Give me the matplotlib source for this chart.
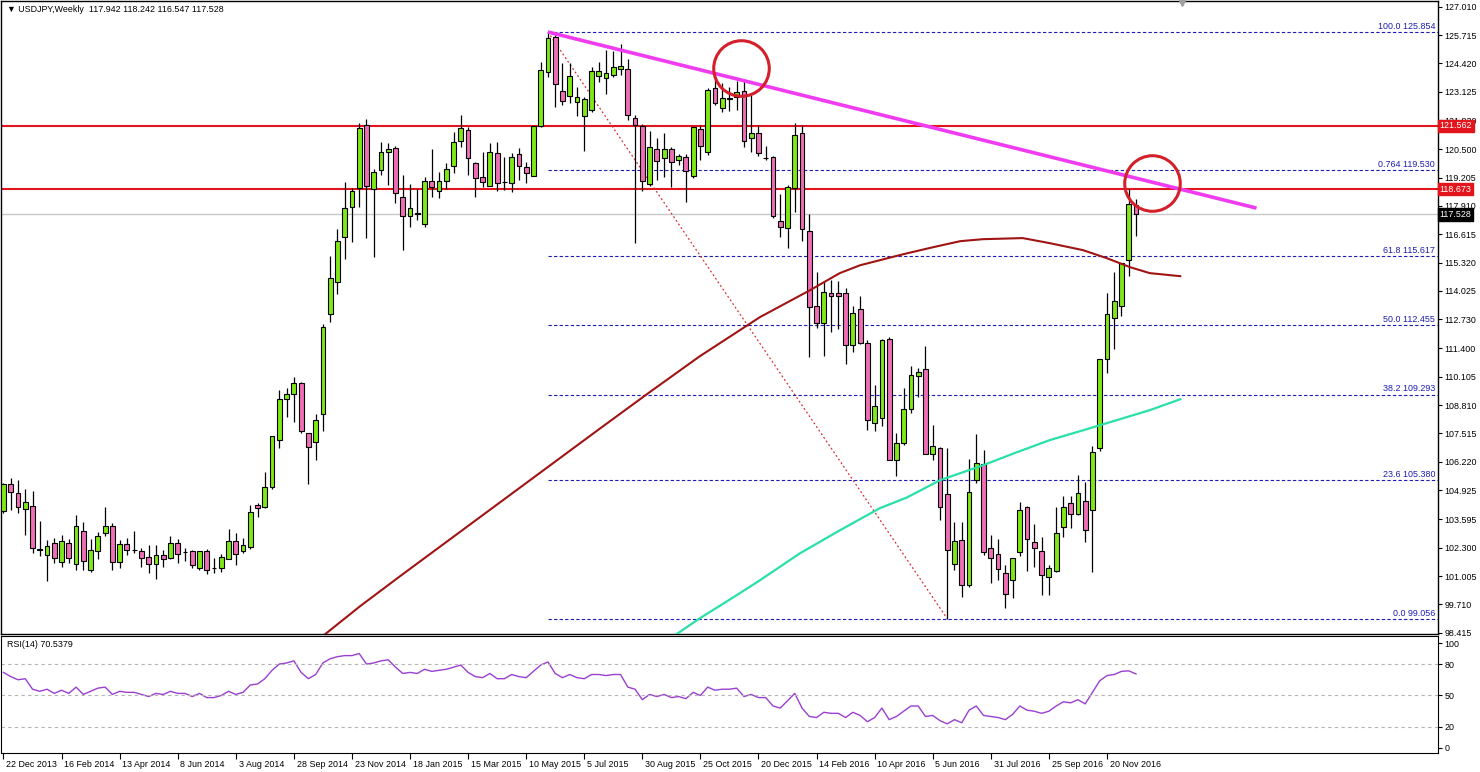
import matplotlib
matplotlib.use("Agg")
import matplotlib.pyplot as plt
from matplotlib.transforms import ScaledTranslation, blended_transform_factory
import numpy as np

plt.rcParams["font.family"] = ["Liberation Sans", "DejaVu Sans"]

# weekly USDJPY candles, bar 0 = week of 22 Dec 2013
opens = [103.96, 105.23, 104.80, 104.05, 104.20, 102.25, 101.98, 102.50, 101.64, 102.50,
         101.57, 103.07, 101.27, 102.16, 102.97, 103.29, 101.64, 102.46, 102.20, 102.17,
         101.88, 101.55, 101.98, 101.85, 102.50, 102.12, 102.14, 101.36, 102.14, 101.38,
         101.38, 101.80, 102.59, 102.17, 102.35, 104.24, 104.16, 105.07, 107.20, 109.10,
         109.30, 109.80, 107.54, 107.13, 108.40, 112.97, 114.45, 116.47, 117.87, 118.74,
         121.60, 118.66, 119.55, 120.38, 120.54, 118.33, 117.44, 117.52, 117.08, 119.03,
         118.60, 119.03, 119.73, 120.89, 121.40, 119.88, 119.21, 118.80, 120.31, 119.00,
         118.94, 120.27, 119.70, 119.27, 121.56, 124.04, 125.61, 123.17, 122.93, 122.67,
         122.00, 122.29, 123.84, 123.74, 123.89, 124.15, 124.15, 121.91, 121.56, 118.91,
         120.50, 120.11, 120.50, 120.00, 120.16, 119.29, 121.42, 120.35, 123.28, 122.37,
         122.82, 122.90, 123.16, 120.99, 121.25, 120.10, 120.16, 117.22, 116.88, 118.74,
         121.22, 116.77, 113.35, 112.58, 113.94, 113.91, 113.94, 111.55, 113.19, 111.63,
         108.01, 108.20, 111.85, 106.29, 107.10, 108.65, 110.14, 110.44, 106.60, 106.83,
         104.74, 101.54, 102.63, 100.58, 105.38, 106.14, 102.30, 102.03, 101.14, 100.80,
         102.10, 104.14, 102.58, 102.17, 100.98, 101.23, 103.26, 104.33, 103.85, 104.43,
         104.00, 106.86, 110.94, 112.81, 113.33, 115.46, 117.942]
highs = [105.25, 105.47, 105.40, 104.96, 104.90, 103.50, 102.63, 102.74, 102.86, 102.68,
         103.80, 103.46, 102.70, 103.02, 104.16, 103.43, 102.63, 102.74, 103.06, 102.30,
         102.40, 102.40, 102.20, 102.82, 102.68, 102.30, 102.20, 102.15, 102.25, 101.85,
         102.00, 103.14, 102.97, 102.74, 104.24, 104.34, 105.76, 107.40, 109.50, 109.57,
         110.10, 109.85, 107.54, 108.40, 112.50, 115.60, 116.84, 119.01, 118.75, 121.68,
         121.86, 119.60, 120.84, 120.77, 120.64, 119.32, 118.90, 118.66, 119.24, 120.50,
         119.47, 119.85, 121.30, 122.04, 121.50, 119.90, 120.35, 120.77, 120.84, 120.13,
         120.31, 120.54, 119.93, 121.56, 124.50, 125.87, 125.70, 124.45, 124.42, 123.35,
         122.90, 124.24, 124.47, 125.03, 125.00, 125.30, 124.60, 122.06, 121.65, 121.34,
         120.99, 121.25, 120.60, 120.30, 120.30, 121.50, 121.60, 123.28, 123.78, 123.51,
         123.33, 123.63, 123.66, 122.97, 121.60, 120.66, 120.20, 118.45, 118.85, 121.71,
         121.60, 117.53, 114.90, 114.49, 114.52, 114.50, 114.14, 113.33, 113.80, 111.80,
         109.75, 111.85, 111.90, 107.56, 109.60, 110.62, 110.50, 111.50, 107.92, 106.90,
         106.87, 103.45, 103.47, 106.36, 107.50, 106.75, 102.86, 102.71, 101.50, 101.84,
         104.40, 104.20, 103.40, 102.80, 101.50, 104.17, 104.68, 104.68, 105.60, 105.30,
         106.96, 110.93, 113.91, 114.87, 115.28, 118.66, 118.242]
lows = [103.87, 104.00, 103.90, 102.90, 102.04, 101.90, 100.77, 101.60, 101.40, 101.60,
        101.27, 101.28, 101.20, 101.80, 102.82, 101.30, 101.37, 101.98, 102.06, 101.40,
        101.12, 100.85, 101.40, 101.80, 101.60, 101.70, 101.36, 101.30, 101.08, 101.15,
        101.20, 101.78, 101.53, 102.06, 102.26, 103.70, 104.10, 105.00, 106.83, 108.28,
        108.05, 107.55, 105.23, 106.30, 107.64, 112.60, 113.87, 115.50, 116.26, 117.87,
        116.45, 115.57, 119.32, 118.85, 118.05, 115.89, 116.93, 117.26, 116.93, 118.33,
        118.25, 118.70, 119.40, 120.61, 119.32, 118.33, 118.77, 118.80, 118.60, 118.63,
        118.55, 119.09, 118.94, 119.27, 121.50, 123.78, 122.44, 122.52, 122.60, 122.00,
        120.43, 122.20, 123.58, 123.02, 123.80, 123.90, 121.83, 116.20, 118.60, 118.80,
        119.09, 119.24, 118.76, 119.80, 118.10, 119.20, 120.03, 120.25, 122.50, 122.21,
        122.26, 122.30, 120.58, 120.35, 120.20, 120.00, 117.34, 116.50, 116.00, 117.64,
        116.32, 110.99, 112.35, 111.06, 112.15, 112.27, 110.68, 111.24, 111.60, 107.69,
        107.63, 107.85, 106.30, 105.57, 107.00, 108.45, 109.16, 106.56, 106.29, 103.55,
        99.06, 101.30, 100.05, 100.50, 105.26, 101.95, 100.69, 100.84, 99.56, 99.98,
        101.90, 101.23, 101.42, 100.12, 100.12, 101.20, 102.80, 103.20, 103.80, 102.57,
        101.19, 106.70, 110.28, 111.37, 112.89, 114.70, 116.547]
closes = [105.20, 104.84, 104.15, 104.37, 102.30, 102.18, 102.37, 101.85, 102.59, 101.85,
          103.30, 101.68, 102.21, 102.85, 103.29, 101.64, 102.45, 102.20, 102.18, 101.83,
          101.55, 101.98, 101.78, 102.50, 102.00, 102.08, 101.52, 102.13, 101.29, 101.35,
          101.88, 102.62, 102.00, 102.40, 103.93, 104.09, 105.07, 107.39, 109.07, 109.30,
          109.80, 107.64, 106.90, 108.15, 112.36, 114.64, 116.30, 117.83, 118.60, 121.45,
          118.80, 119.47, 120.38, 120.50, 118.51, 117.44, 117.80, 117.60, 119.03, 118.78,
          119.03, 119.60, 120.81, 121.45, 120.11, 119.17, 118.99, 120.35, 118.94, 118.98,
          120.16, 119.74, 119.40, 121.56, 124.12, 125.56, 123.47, 122.70, 123.84, 122.90,
          122.78, 124.09, 124.09, 123.97, 124.24, 124.31, 122.06, 121.60, 119.06, 120.61,
          119.97, 120.50, 119.90, 120.20, 119.52, 121.50, 120.64, 123.20, 122.62, 122.82,
          122.80, 123.13, 120.88, 121.25, 120.31, 120.08, 117.44, 116.96, 118.78, 121.15,
          116.84, 113.27, 112.58, 113.99, 113.80, 113.80, 111.55, 113.03, 111.63, 108.12,
          108.77, 111.80, 106.32, 107.10, 108.65, 110.17, 110.33, 106.56, 106.95, 104.16,
          102.18, 102.60, 100.58, 104.83, 106.17, 102.10, 101.84, 101.31, 100.17, 101.84,
          104.00, 102.70, 102.30, 101.03, 101.38, 102.97, 104.17, 103.86, 104.80, 103.09,
          106.69, 110.93, 112.97, 113.56, 115.28, 117.98, 117.528]

# RSI(14)
rsi = [72, 68, 65, 66, 56, 54, 56, 52, 55, 52,
       58, 51, 54, 57, 58, 51, 54, 53, 53, 51,
       49, 52, 51, 54, 52, 52, 49, 52, 48, 48,
       50, 54, 51, 53, 60, 61, 66, 74, 80, 81,
       83, 72, 66, 70, 81, 85, 87, 88, 88, 90,
       80, 81, 83, 84, 77, 71, 72, 71, 75, 73,
       74, 75, 77, 79, 72, 68, 67, 71, 66, 66,
       70, 68, 67, 73, 79, 82, 71, 67, 70, 67,
       66, 70, 70, 69, 70, 70, 58, 56, 46, 51,
       49, 51, 48, 49, 47, 53, 50, 58, 55, 56,
       56, 57, 49, 51, 48, 48, 40, 38, 45, 52,
       38, 30, 29, 34, 33, 33, 29, 34, 31, 25,
       29, 38, 27, 30, 35, 40, 40, 30, 31, 26,
       23, 27, 24, 36, 40, 31, 30, 29, 27, 32,
       40, 36, 35, 33, 35, 40, 44, 43, 46, 42,
       53, 64, 69, 70, 73, 73.5, 70.54]

# moving averages (bar index, price)
ma_slow_x = [43.6, 49.1, 54.6, 61.5, 68.4, 75.3, 82.2, 89.0, 95.9, 104.2, 111.1, 115.2,
             118.0, 123.9, 128.0, 131.8, 134.9, 140.4, 144.1, 148.7, 152.0, 155.2, 157.9, 162.1]
ma_slow_y = [98.16, 99.62, 100.99, 102.68, 104.37, 106.06, 107.75, 109.40, 111.04, 112.83,
             114.06, 114.84, 115.20, 115.70, 116.02, 116.30, 116.39, 116.44, 116.21, 115.89,
             115.52, 115.11, 114.84, 114.70]
ma_long_x = [92.1, 95.9, 100.1, 104.2, 109.7, 115.2, 120.7, 124.5, 129.0, 134.9, 139.6,
             144.1, 148.7, 154.2, 157.9, 162.1]
ma_long_y = [98.21, 99.07, 99.94, 100.81, 102.04, 103.09, 104.10, 104.60, 105.38, 106.06,
             106.66, 107.21, 107.66, 108.21, 108.58, 109.08]

price_ticks = [127.010, 125.715, 124.420, 123.125, 121.830, 120.500, 119.205, 117.910,
               116.615, 115.320, 114.025, 112.730, 111.400, 110.105, 108.810, 107.515,
               106.220, 104.925, 103.595, 102.300, 101.005, 99.710, 98.415]
fib_levels = [125.854, 119.530, 115.617, 112.455, 109.293, 105.380, 99.056]
fib_labels = ["100.0 125.854", "0.764 119.530", "61.8 115.617", "50.0 112.455",
              "38.2 109.293", "23.6 105.380", "0.0 99.056"]
date_labels = ["22 Dec 2013", "16 Feb 2014", "13 Apr 2014", "8 Jun 2014", "3 Aug 2014",
               "28 Sep 2014", "23 Nov 2014", "18 Jan 2015", "15 Mar 2015", "10 May 2015",
               "5 Jul 2015", "30 Aug 2015", "25 Oct 2015", "20 Dec 2015", "14 Feb 2016",
               "10 Apr 2016", "5 Jun 2016", "31 Jul 2016", "25 Sep 2016", "20 Nov 2016"]
resist_1 = 121.562
resist_2 = 118.673
last_price = 117.528

BULL = "#7fe817"
BEAR = "#ee6fb5"
FS = 6.4

fig = plt.figure(figsize=(14.8, 7.72), dpi=100)
ax = fig.add_axes([1 / 1480, 1 - 634 / 772, 1437 / 1480, 633 / 772])
ax_rsi = fig.add_axes([1 / 1480, 1 - 753 / 772, 1437 / 1480, 117 / 772])

n = len(closes)
xs = np.arange(n)
xmin, xmax = -0.34, 197.6

# candles
o = np.array(opens)
c = np.array(closes)
up = c >= o
cols = np.where(up, BULL, BEAR)
ax.vlines(xs, lows, highs, color="black", lw=0.9, zorder=3)
body_lo = np.minimum(o, c)
body_h = np.maximum(np.abs(c - o), 0.03)
ax.bar(xs, body_h, bottom=body_lo, width=0.66, color=cols, edgecolor="black",
       linewidth=0.8, zorder=4)

# horizontal levels
ax.axhline(resist_1, color="#e2141c", lw=1.5, zorder=2)
ax.axhline(resist_2, color="#e2141c", lw=1.5, zorder=2)
ax.axhline(last_price, color="#c8c8c8", lw=1, zorder=1)

# fibonacci retracement
ax.hlines(fib_levels, 75, xmax, colors="#1c1cb4", linestyles=(0, (3, 2)), lw=0.8, zorder=2)
for lev, lab in zip(fib_levels, fib_labels):
    ax.text(197.2, lev + 0.05, lab, ha="right", va="bottom", color="#1c1cb4", fontsize=FS, zorder=6)
ax.plot([75, 130], [125.854, 99.056], color="#d83030", ls=(0, (1.5, 2)), lw=0.9, zorder=2)

# moving averages
ax.plot(ma_slow_x, ma_slow_y, color="#a01414", lw=1.5, zorder=5)
ax.plot(ma_long_x, ma_long_y, color="#28e0a8", lw=1.6, zorder=5)

# trend line and circles
ax.plot([75, 172.6], [125.854, 117.81], color="#f03cf0", lw=2.6, zorder=6, solid_capstyle="butt")
ax.plot([101.6, 158.2], [124.21, 118.95], ls="none", marker="o", ms=40, mfc="none",
        mec="#d4202a", mew=2.2, zorder=7)

# chart shift marker
ax.plot([162.3], [127.17], marker="v", color="#a0a0a0", ms=5, clip_on=False, zorder=8)

ax.set_xlim(xmin, xmax)
ax.set_ylim(98.356, 127.27)
ax.set_xticks([])
ax.yaxis.tick_right()
ax.set_yticks(price_ticks)
ax.set_yticklabels([f"{v:.3f}" for v in price_ticks])
ax.tick_params(axis="y", direction="out", length=3, width=0.8, pad=1.5, labelsize=FS)
for s in ax.spines.values():
    s.set_linewidth(1)

ax.text(0.004, 0.993, "\u25bc USDJPY,Weekly  117.942 118.242 116.547 117.528",
        transform=ax.transAxes, ha="left", va="top", fontsize=FS)

# price boxes on the right axis
tr = blended_transform_factory(ax.transAxes, ax.transData)
for val, bg in [(resist_1, "#e2141c"), (resist_2, "#e2141c"), (last_price, "black")]:
    ax.text(1.0012, val, f"{val:.3f}", transform=tr, ha="left", va="center", color="white",
            fontsize=FS, clip_on=False, zorder=10,
            bbox=dict(boxstyle="square,pad=0.2", fc=bg, ec=bg))

# RSI panel
ax_rsi.plot(xs, rsi, color="#9b3fd0", lw=1)
for lev in (80, 50, 20):
    ax_rsi.axhline(lev, color="#b4b4b4", lw=0.8, ls=(0, (3, 3)))
ax_rsi.set_xlim(xmin, xmax)
ax_rsi.set_ylim(-4.8, 106.7)
ax_rsi.yaxis.tick_right()
ax_rsi.set_yticks([100, 80, 50, 20, 0])
ax_rsi.tick_params(axis="y", direction="out", length=3, width=0.8, pad=1.5, labelsize=FS)
ax_rsi.set_xticks(np.arange(0, 8 * len(date_labels), 8))
ax_rsi.set_xticklabels(date_labels, ha="left")
ax_rsi.tick_params(axis="x", direction="out", length=4, width=0.8, pad=1, labelsize=FS)
shift = ScaledTranslation(2 / 72, 0, fig.dpi_scale_trans)
for lbl in ax_rsi.get_xticklabels():
    lbl.set_transform(lbl.get_transform() + shift)
ax_rsi.text(0.004, 0.97, "RSI(14) 70.5379", transform=ax_rsi.transAxes, ha="left", va="top",
            fontsize=FS)

fig.savefig("out.png", dpi=100)
